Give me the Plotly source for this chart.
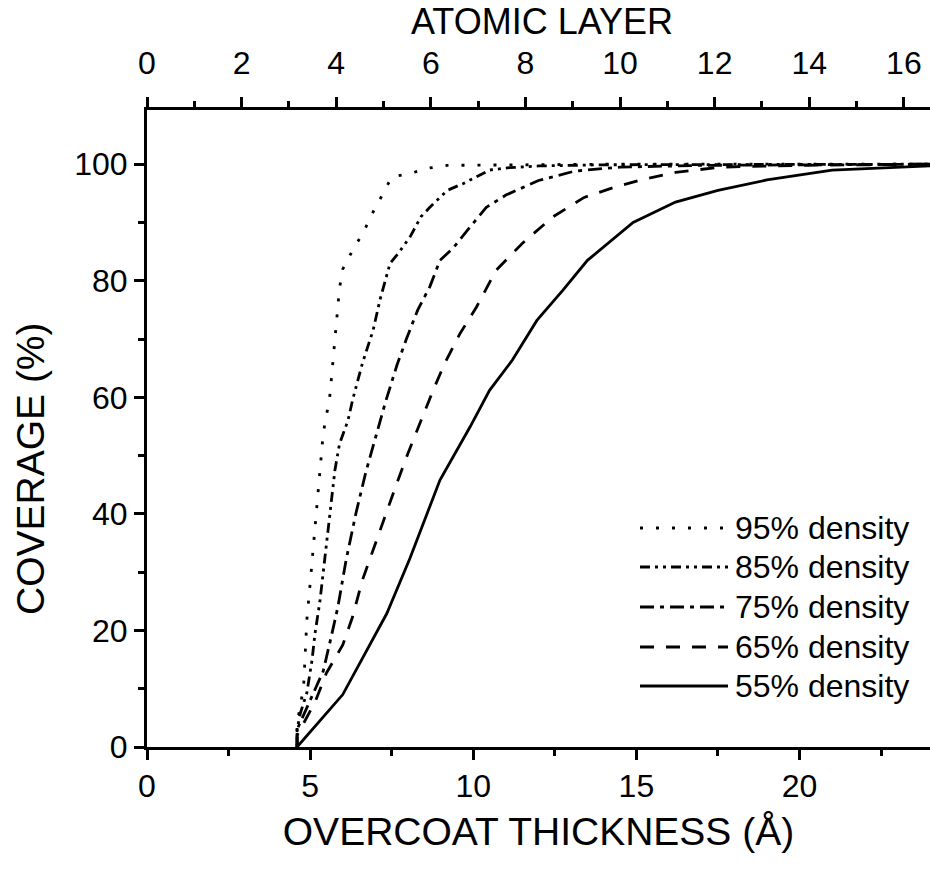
import plotly.graph_objects as go

# ---------------- data ----------------
x95 = [4.6, 4.6, 4.8, 4.9, 5.0, 5.1, 5.2, 5.3, 5.4, 5.6, 5.7, 5.82, 5.9, 6.0, 6.3, 6.63, 6.93, 7.24, 7.5, 8.06, 8.6, 9.2, 11.0, 14.0, 24.0]
y95 = [0, 4, 10.3, 21.8, 28, 34.6, 41, 47.2, 53.8, 60, 66, 72.7, 78.7, 82, 85.2, 88.3, 91.8, 95, 97.8, 98.4, 99.3, 99.8, 99.9, 100, 100]

x85 = [4.6, 4.6, 4.7, 4.9, 5.06, 5.15, 5.3, 5.45, 5.6, 5.76, 5.9, 6.16, 6.3, 6.6, 6.93, 7.14, 7.45, 7.7, 8.06, 8.4, 8.67, 9.2, 9.7, 10.5, 11.1, 12.0, 14.0, 24.0]
y85 = [0, 3, 5.8, 9.3, 15, 19.5, 25, 32, 40, 47.5, 52, 56, 59.5, 65.8, 71.5, 76.7, 83, 84.7, 87.5, 91, 92.6, 95.5, 96.7, 99, 99.4, 99.7, 99.9, 100]

x75 = [4.6, 4.6, 5.0, 5.4, 5.65, 5.85, 6.1, 6.4, 6.7, 7.0, 7.3, 7.66, 7.95, 8.3, 8.67, 8.98, 9.38, 9.9, 10.4, 11.0, 12.0, 13.1, 14.5, 17.0, 24.0]
y75 = [0, 3, 8, 13, 19, 24, 32, 40, 47, 53, 59, 65.5, 70, 75, 79, 83.5, 85.6, 89.2, 92.6, 94.7, 97.2, 98.8, 99.5, 99.8, 100]

x65 = [4.6, 4.6, 5.15, 5.5, 6.0, 6.3, 6.6, 6.93, 7.3, 7.66, 8.0, 8.37, 8.77, 9.13, 9.6, 10.1, 10.7, 11.5, 12.45, 13.4, 14.3, 15.2, 16.2, 17.6, 20.0, 24.0]
y65 = [0, 2, 7.7, 12.7, 17.5, 22.3, 28.6, 33.8, 39.8, 45.3, 50.4, 55.6, 61.2, 65.9, 71, 75.5, 81.8, 86.4, 91, 94.3, 96, 97.4, 98.6, 99.5, 99.8, 100]

x55 = [4.6, 6.0, 7.35, 8.06, 8.98, 9.9, 10.5, 11.2, 11.95, 12.75, 13.5, 14.9, 16.2, 17.5, 19.0, 21.0, 24.0]
y55 = [0, 9, 22.9, 32.4, 45.8, 54.9, 61.2, 66.4, 73.2, 78.4, 83.5, 90, 93.5, 95.5, 97.3, 99, 99.7]

series_names = ["95% density", "85% density", "75% density", "65% density", "55% density"]
series_x = [x95, x85, x75, x65, x55]
series_y = [y95, y85, y75, y65, y55]

x_range = [0, 24]
y_range = [0, 109.3]
angstrom_per_layer = 1.45
x_ticks = [0, 5, 10, 15, 20]
x_minor = [2.5, 7.5, 12.5, 17.5, 22.5]
y_ticks = [0, 20, 40, 60, 80, 100]
y_minor = [10, 30, 50, 70, 90]
layer_ticks = [0, 2, 4, 6, 8, 10, 12, 14, 16]
layer_minor = [1, 3, 5, 7, 9, 11, 13, 15]

# ---------------- styles ----------------
FONT = "Arial, 'Liberation Sans', Helvetica, sans-serif"
dashes = ["3px,13px", "10px,5px,3px,5px,3px,5px", "14px,6px,4px,6px", "14px,12px", "solid"]
LW = 2.8

W, H = 930, 869
ML, MR, MT, MB = 147, 0, 110, 122
PW, PH = W - ML - MR, H - MT - MB


def px2paper(px, py):
    return (px - ML) / PW, (H - MB - py) / PH


fig = go.Figure()
for name, xs, ys, d in zip(series_names, series_x, series_y, dashes):
    fig.add_trace(go.Scatter(x=xs, y=ys, mode="lines", name=name,
                             line=dict(color="black", width=LW, dash=d),
                             showlegend=False))

# empty trace so that the top (atomic layer) axis is drawn
fig.add_trace(go.Scatter(x=[layer_ticks[0], layer_ticks[-1]], y=[None, None], xaxis="x2",
                         mode="lines", showlegend=False, hoverinfo="skip"))

# manual legend (long line samples like the original)
row_y = [528, 567, 607, 647, 686]
for name, d, ry in zip(series_names, dashes, row_y):
    x0, y0 = px2paper(640, ry)
    x1, _ = px2paper(728, ry)
    fig.add_shape(type="line", xref="paper", yref="paper", x0=x0, x1=x1, y0=y0, y1=y0,
                  line=dict(color="black", width=LW, dash=d))
    tx, _ = px2paper(733, ry)
    fig.add_annotation(xref="paper", yref="paper", x=tx, y=y0, text=name, showarrow=False,
                       xanchor="left", yanchor="middle",
                       font=dict(family=FONT, size=32, color="black"))

# y-axis title placed as in the original
tx, ty = px2paper(30, 468)
fig.add_annotation(xref="paper", yref="paper", x=tx, y=ty, text="COVERAGE (%)", showarrow=False,
                   textangle=-90, xanchor="center", yanchor="middle",
                   font=dict(family=FONT, size=39, color="black"))

# top-axis title placed as in the original
tx, ty = px2paper(542, 22)
fig.add_annotation(xref="paper", yref="paper", x=tx, y=ty, text="ATOMIC LAYER", showarrow=False,
                   xanchor="center", yanchor="middle",
                   font=dict(family=FONT, size=36, color="black"))

axis_common = dict(showline=True, linecolor="black", linewidth=3, ticks="outside",
                   tickcolor="black", tickwidth=3, ticklen=10, showgrid=False, zeroline=False,
                   automargin=False,
                   tickfont=dict(family=FONT, size=32, color="black"))
minor_common = dict(ticklen=6, tickwidth=2.5, ticks="outside", tickcolor="black")

fig.update_layout(
    width=W, height=H,
    margin=dict(l=ML, r=MR, t=MT, b=MB),
    paper_bgcolor="white", plot_bgcolor="white",
    xaxis=dict(range=x_range, tickmode="array", tickvals=x_ticks,
               minor=dict(tickvals=x_minor, **minor_common),
               title=dict(text="OVERCOAT THICKNESS (Å)", standoff=15,
                          font=dict(family=FONT, size=39, color="black")),
               ticklabelstandoff=-1,
               **axis_common),
    xaxis2=dict(range=[x_range[0] / angstrom_per_layer, x_range[1] / angstrom_per_layer],
                overlaying="x", side="top", anchor="y",
                tickmode="array", tickvals=layer_ticks,
                minor=dict(tickvals=layer_minor, **minor_common),
                ticklabelstandoff=10,
                **axis_common),
    yaxis=dict(range=y_range, tickmode="array", tickvals=y_ticks,
               minor=dict(tickvals=y_minor, **minor_common),
               ticklabelstandoff=0,
               **axis_common),
)

fig.write_html("out.html", config={"displayModeBar": False},
               post_script="document.body.style.margin='0';")
